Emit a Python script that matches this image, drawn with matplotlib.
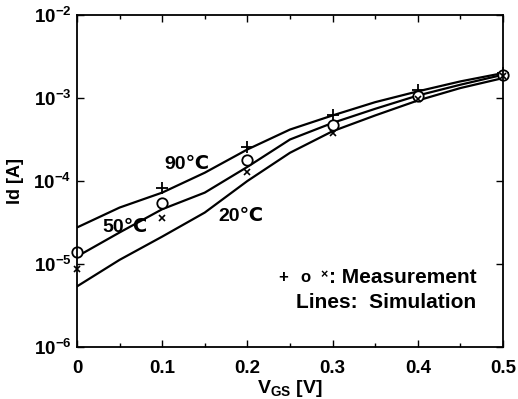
import numpy as np
import matplotlib
matplotlib.use("Agg")
import matplotlib.pyplot as plt
from matplotlib.ticker import FixedLocator, MultipleLocator

plt.rcParams['font.family'] = ['Liberation Sans', 'DejaVu Sans']
plt.rcParams['font.weight'] = 'bold'
plt.rcParams['mathtext.fontset'] = 'custom'
plt.rcParams['mathtext.rm'] = 'Liberation Sans:bold'
plt.rcParams['mathtext.it'] = 'Liberation Sans:bold'
plt.rcParams['mathtext.bf'] = 'Liberation Sans:bold'

# Simulation lines (log10 of Id) at VGS grid
vgs_line = [0.0, 0.05, 0.1, 0.15, 0.2, 0.25, 0.3, 0.35, 0.4, 0.45, 0.5]
log_sim_90 = [-4.56, -4.32, -4.14, -3.90, -3.62, -3.38, -3.21, -3.05, -2.92, -2.80, -2.70]
log_sim_50 = [-4.91, -4.62, -4.34, -4.14, -3.83, -3.50, -3.30, -3.13, -2.97, -2.84, -2.72]
log_sim_20 = [-5.27, -4.95, -4.67, -4.38, -4.00, -3.66, -3.40, -3.21, -3.03, -2.88, -2.76]

# Measurements
vgs_meas = [0.0, 0.1, 0.2, 0.3, 0.4, 0.5]
log_meas_90 = [np.nan, -4.08, -3.59, -3.20, -2.90, -2.70]
log_meas_50 = [-4.86, -4.26, -3.75, -3.32, -2.97, -2.72]
log_meas_20 = [-5.06, -4.45, -3.89, -3.42, -3.01, -2.74]

fig = plt.figure(figsize=(5.18, 3.99), dpi=100)
ax = fig.add_axes([0.1486, 0.1303, 0.8224, 0.8321])

for ys in (log_sim_90, log_sim_50, log_sim_20):
    ax.plot(vgs_line, 10 ** np.array(ys), color='black', lw=1.6)

ax.plot(vgs_meas, 10 ** np.array(log_meas_90), ls='none', marker='+', ms=9, mew=1.3,
        color='black', clip_on=False)
ax.plot(vgs_meas, 10 ** np.array(log_meas_50), ls='none', marker='o', ms=7.5, mew=1.3,
        mfc='white', mec='black', clip_on=False)
ax.plot(vgs_meas, 10 ** np.array(log_meas_20), ls='none', marker='x', ms=4.5, mew=1.2,
        color='black', clip_on=False)

ax.set_yscale('log')
ax.set_xlim(0, 0.5)
ax.set_ylim(1e-6, 1e-2)

ax.xaxis.set_minor_locator(MultipleLocator(0.05))
ax.set_xticks([0, 0.1, 0.2, 0.3, 0.4, 0.5])
ax.set_xticklabels(['0', '0.1', '0.2', '0.3', '0.4', '0.5'])
ydec = [1e-6, 1e-5, 1e-4, 1e-3, 1e-2]
ax.yaxis.set_major_locator(FixedLocator(ydec))
ax.yaxis.set_minor_locator(FixedLocator([]))
ax.set_yticklabels([r'$10^{-6}$', r'$10^{-5}$', r'$10^{-4}$', r'$10^{-3}$', r'$10^{-2}$'])

ax.tick_params(which='both', direction='in', top=True, right=True, width=1.0)
ax.tick_params(which='major', length=5, labelsize=13.5)
ax.tick_params(axis='x', which='major', pad=9)
ax.tick_params(axis='y', which='major', pad=4)
ax.tick_params(which='minor', length=3)
for lab in ax.get_xticklabels() + ax.get_yticklabels():
    lab.set_fontweight('bold')
for s in ax.spines.values():
    s.set_linewidth(1.3)

ax.set_xlabel(r'V$_{\mathrm{GS}}$ [V]', fontsize=14, fontweight='bold', labelpad=1)
ax.set_ylabel('Id [A]', fontsize=13, fontweight='bold', labelpad=7)

ax.text(0.129, 10 ** -3.80, '90℃', fontsize=14, fontweight='bold', ha='center', va='center')
ax.text(0.056, 10 ** -4.56, '50℃', fontsize=14, fontweight='bold', ha='center', va='center')
ax.text(0.192, 10 ** -4.43, '20℃', fontsize=14, fontweight='bold', ha='center', va='center')

ax.text(0.469, 10 ** -5.16, ': Measurement', fontsize=15, fontweight='bold', ha='right', va='center')
ax.text(0.2418, 10 ** -5.16, '+', fontsize=12, fontweight='bold', ha='center', va='center')
ax.text(0.2676, 10 ** -5.16, 'o', fontsize=12, fontweight='bold', ha='center', va='center')
ax.text(0.2905, 10 ** -5.13, '×', fontsize=9, fontweight='bold', ha='center', va='center')
ax.text(0.469, 10 ** -5.46, 'Lines:  Simulation', fontsize=15, fontweight='bold', ha='right', va='center')

fig.savefig('out.png', dpi=100)
